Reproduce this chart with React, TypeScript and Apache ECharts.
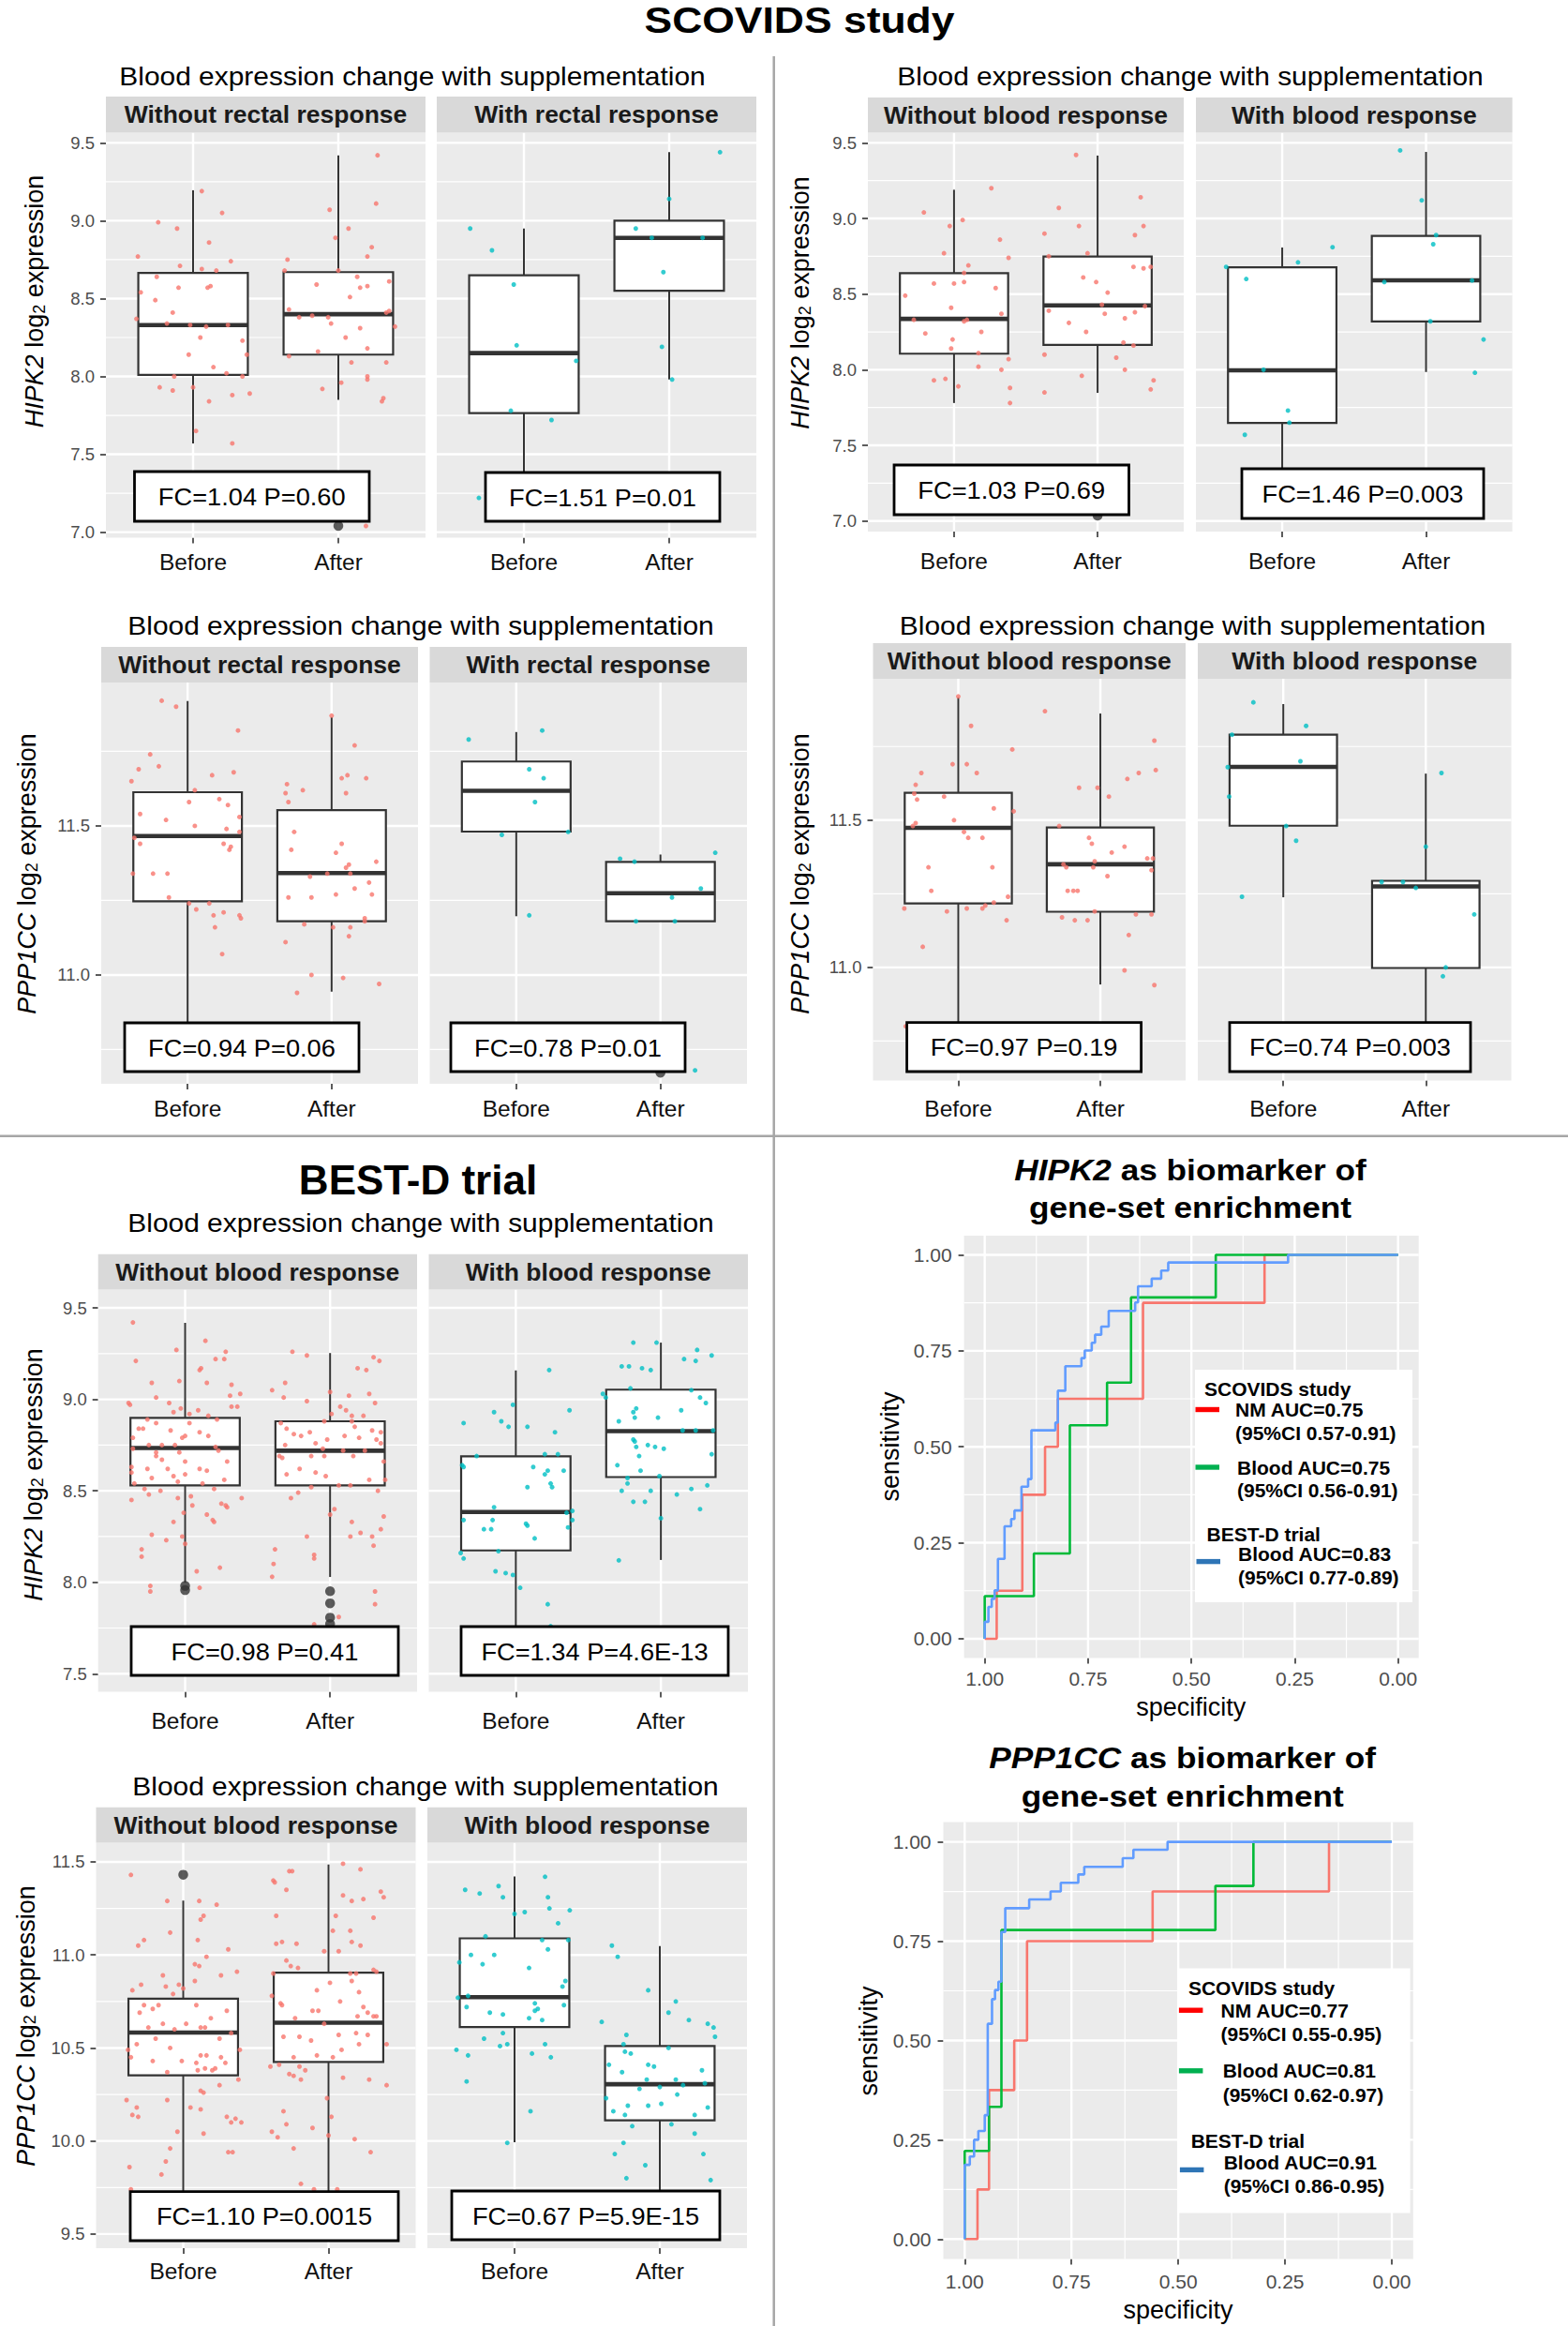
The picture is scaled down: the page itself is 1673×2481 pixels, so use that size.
import React, { useEffect, useRef } from 'react';
import * as echarts from 'echarts';

const FONT = '"Liberation Sans", Arial, Helvetica, sans-serif';
const RED = '#F8766D';
const CYAN = '#00BFC4';

const categories = ['Before', 'After'];
const rectalStrips = ['Without rectal response', 'With rectal response'];
const bloodStrips = ['Without blood response', 'With blood response'];
const subtitleText = 'Blood expression change with supplementation';

const hipkTicksScovids = [7.0, 7.5, 8.0, 8.5, 9.0, 9.5];
const hipkMinorScovids = [7.25, 7.75, 8.25, 8.75, 9.25];
const pppTicksScovids = [11.0, 11.5];
const pppMinorScovids = [10.75, 11.25, 11.75];
const hipkTicksBestd = [7.5, 8.0, 8.5, 9.0, 9.5];
const hipkMinorBestd = [7.75, 8.25, 8.75, 9.25];
const pppTicksBestd = [9.5, 10.0, 10.5, 11.0, 11.5];
const pppMinorBestd = [9.75, 10.25, 10.75, 11.25];
const rocTicks = [0, 0.25, 0.5, 0.75, 1];
const rocMinor = [0.125, 0.375, 0.625, 0.875];

// ---------- Panel 1: SCOVIDS HIPK2, rectal response ----------
// box stats: [lower whisker, q1, median, q3, upper whisker]; order: without-Before, without-After, with-Before, with-After
const p1Box = [[7.57, 8.01, 8.33, 8.665, 9.195], [7.85, 8.14, 8.40, 8.67, 9.42], [7.22, 7.765, 8.15, 8.65, 8.95], [7.98, 8.55, 8.89, 9.0, 9.44]];
const p1Outliers = [[0, 2, 7.04]]; // [facet, category, value]
const p1Fc = ['FC=1.04 P=0.60', 'FC=1.51 P=0.01'];
// jitter points: [x offset, value]
const p1WoBefore = [[0.06,9.19],[0.2,9.05],[-0.24,8.99],[-0.11,8.95],[0.11,8.86],[-0.38,8.77],[-0.09,8.71],[0.26,8.74],[0.06,8.69],[0.16,8.68],[-0.25,8.64],[0.12,8.58],[0.1,8.57],[-0.1,8.57],[-0.36,8.54],[-0.26,8.49],[-0.14,8.41],[-0.39,8.37],[-0.18,8.34],[-0.02,8.33],[0.09,8.32],[0.24,8.33],[0.05,8.25],[0.34,8.23],[-0.03,8.14],[0.37,8.14],[0.14,8.06],[0.23,8.02],[-0.13,8.0],[0.34,8.0],[-0.23,7.93],[0,7.93],[-0.14,7.91],[0.27,7.88],[0.39,7.89],[0.11,7.84],[0.02,7.65],[0.27,7.57]];
const p1WoAfter = [[0.27,9.42],[0.26,9.11],[-0.06,9.07],[0.07,8.95],[-0.02,8.89],[0.23,8.83],[0.2,8.77],[-0.35,8.75],[-0.37,8.68],[0,8.68],[0.13,8.64],[-0.15,8.59],[0.2,8.58],[0.15,8.57],[0.35,8.61],[0.08,8.51],[-0.34,8.43],[-0.27,8.38],[-0.18,8.39],[-0.07,8.38],[-0.05,8.34],[0.33,8.41],[0.35,8.42],[0.39,8.32],[0.15,8.31],[0.05,8.25],[0.2,8.18],[-0.14,8.16],[-0.34,8.13],[0.33,8.09],[0.09,8.09],[0.2,8.0],[0.2,7.98],[0.02,7.96],[-0.11,7.92],[0.31,7.86],[0.3,7.84],[0.19,7.04]];
const p1WBefore = [[-0.37,8.95],[-0.22,8.81],[-0.07,8.59],[-0.05,8.2],[0.36,8.1],[-0.09,7.78],[0.19,7.72],[-0.31,7.22]];
const p1WAfter = [[0.35,9.44],[0,9.14],[-0.23,8.95],[-0.12,8.89],[0.23,8.89],[-0.04,8.67],[-0.05,8.19],[0.02,7.98]];

// ---------- Panel 2: SCOVIDS HIPK2, blood response ----------
const p2Box = [[7.78, 8.106, 8.336, 8.639, 9.19], [7.847, 8.164, 8.425, 8.748, 9.416], [7.2, 7.648, 7.996, 8.677, 8.808], [7.985, 8.319, 8.591, 8.885, 9.44]];
const p2Outliers = [[0, 2, 7.035]];
const p2Fc = ['FC=1.03 P=0.69', 'FC=1.46 P=0.003'];
const p2WoBefore = [[0.26,9.2],[-0.21,9.04],[0.06,8.99],[-0.03,8.95],[0.32,8.86],[-0.07,8.77],[0.38,8.74],[0.1,8.69],[0.07,8.64],[0.07,8.58],[-0.14,8.57],[0,8.57],[0.29,8.54],[-0.34,8.49],[-0.02,8.41],[0.33,8.37],[-0.28,8.33],[0.09,8.33],[0.07,8.32],[-0.2,8.24],[0.19,8.25],[-0.01,8.2],[-0.02,8.14],[0.17,8.11],[0.38,8.07],[0.17,8.02],[0.33,8.0],[-0.14,7.93],[-0.06,7.94],[0.39,7.88],[0.03,7.89],[0.39,7.78]];
const p2WoAfter = [[-0.15,9.42],[0.3,9.14],[-0.27,9.07],[-0.13,8.95],[-0.37,8.9],[0.32,8.95],[0.26,8.89],[-0.07,8.77],[-0.34,8.75],[0.25,8.68],[0.37,8.68],[0.32,8.67],[-0.1,8.61],[-0.01,8.58],[0.07,8.51],[0.03,8.43],[0.33,8.42],[-0.34,8.39],[0.05,8.37],[0.26,8.38],[-0.2,8.31],[0.19,8.34],[-0.08,8.25],[0.18,8.18],[0.25,8.16],[-0.37,8.1],[0.13,8.08],[0.19,8.0],[-0.11,7.96],[0.39,7.93],[0.37,7.87],[-0.37,7.85]];
const p2WBefore = [[0.35,8.81],[-0.39,8.68],[0.11,8.71],[-0.25,8.6],[-0.13,8.0],[0.04,7.73],[0.05,7.65],[-0.26,7.57]];
const p2WAfter = [[-0.18,9.45],[-0.03,9.12],[0.07,8.89],[0.05,8.83],[-0.29,8.58],[0.32,8.59],[0.03,8.32],[0.4,8.2],[0.34,7.98]];

// ---------- Panel 3: SCOVIDS PPP1CC, rectal response ----------
const p3Box = [[10.7, 11.247, 11.466, 11.613, 11.919], [10.944, 11.18, 11.342, 11.553, 11.865], [11.197, 11.481, 11.618, 11.716, 11.815], [11.18, 11.18, 11.274, 11.379, 11.404]];
const p3Outliers = [[1, 2, 10.672]];
const p3Fc = ['FC=0.94 P=0.06', 'FC=0.78 P=0.01'];
const p3WoBefore = [[-0.18,11.92],[-0.08,11.9],[0.35,11.82],[-0.26,11.74],[-0.34,11.69],[-0.2,11.7],[0.32,11.68],[-0.39,11.65],[0.17,11.67],[0.05,11.62],[0.01,11.58],[0.22,11.59],[0.28,11.57],[-0.33,11.54],[-0.15,11.52],[0.36,11.53],[0.05,11.5],[0.27,11.49],[0.36,11.48],[-0.37,11.46],[-0.33,11.44],[0.25,11.44],[0.3,11.43],[0.29,11.42],[-0.38,11.34],[-0.24,11.34],[-0.14,11.34],[-0.13,11.26],[0.01,11.24],[0.15,11.24],[0.06,11.22],[0.18,11.2],[0.25,11.21],[0.36,11.2],[0.37,11.19],[0.19,11.16],[0.24,11.07]];
const p3WoAfter = [[0,11.87],[0.16,11.77],[0.11,11.67],[0.07,11.66],[0.24,11.66],[-0.31,11.64],[-0.2,11.62],[-0.32,11.61],[0.1,11.61],[-0.3,11.58],[-0.26,11.48],[0.07,11.44],[-0.28,11.42],[0.03,11.41],[0.31,11.38],[0.12,11.37],[0.1,11.36],[-0.03,11.34],[0.13,11.34],[-0.15,11.33],[0.26,11.31],[0.16,11.29],[-0.3,11.26],[-0.14,11.26],[0.03,11.27],[0.28,11.27],[0.23,11.19],[0.23,11.18],[-0.19,11.17],[0.01,11.16],[0.13,11.16],[0.12,11.13],[-0.32,11.11],[-0.14,11.0],[0.08,10.99],[0.33,10.97],[-0.24,10.94]];
const p3WBefore = [[0.18,11.82],[-0.33,11.79],[0.09,11.69],[0.19,11.66],[0.13,11.58],[0.36,11.48],[-0.1,11.47],[0.09,11.2]];
const p3WAfter = [[0.38,11.41],[-0.28,11.39],[-0.18,11.38],[0.28,11.29],[0.08,11.26],[-0.17,11.18],[0.1,11.18],[0.24,10.68]];

// ---------- Panel 4: SCOVIDS PPP1CC, blood response ----------
const p4Box = [[10.7, 11.217, 11.474, 11.593, 11.917], [10.942, 11.189, 11.35, 11.475, 11.862], [11.238, 11.481, 11.681, 11.79, 11.894], [10.72, 10.998, 11.275, 11.294, 11.658]];
const p4Outliers = [];
const p4Fc = ['FC=0.97 P=0.19', 'FC=0.74 P=0.003'];
const p4WoBefore = [[0,11.92],[0.09,11.82],[0.38,11.74],[-0.04,11.69],[0.06,11.69],[-0.26,11.66],[0.13,11.66],[-0.3,11.62],[-0.31,11.59],[-0.1,11.58],[-0.29,11.57],[0.25,11.54],[0.39,11.53],[-0.03,11.5],[-0.3,11.49],[-0.32,11.48],[0.04,11.46],[0.07,11.44],[0.17,11.44],[-0.21,11.34],[0.24,11.34],[-0.19,11.26],[0.35,11.24],[0.25,11.22],[0.19,11.21],[0.06,11.2],[0.17,11.2],[-0.38,11.2],[-0.08,11.19],[0.34,11.16],[-0.25,11.07],[-0.37,10.8]];
const p4WoAfter = [[-0.39,11.87],[0.38,11.77],[0.39,11.67],[0.19,11.64],[0.27,11.66],[-0.15,11.61],[-0.02,11.61],[0.06,11.58],[-0.29,11.48],[-0.08,11.44],[-0.06,11.42],[0.17,11.41],[0.08,11.39],[0.33,11.37],[0.37,11.37],[-0.26,11.35],[-0.24,11.34],[-0.04,11.36],[-0.05,11.34],[0.36,11.33],[0.05,11.31],[-0.23,11.26],[-0.19,11.26],[-0.16,11.26],[-0.04,11.19],[-0.27,11.17],[-0.18,11.16],[-0.09,11.16],[0.25,11.18],[0.36,11.18],[0.2,11.11],[0.17,10.99],[0.38,10.94]];
const p4WBefore = [[-0.21,11.9],[0.16,11.82],[-0.36,11.79],[0.12,11.7],[-0.39,11.68],[-0.38,11.58],[0.02,11.48],[0.09,11.43],[-0.29,11.24]];
const p4WAfter = [[0.11,11.66],[0,11.41],[-0.31,11.29],[-0.16,11.29],[-0.07,11.27],[0.34,11.18],[0.14,11.0],[0.12,10.97]];

// ---------- Panel 5: BEST-D HIPK2 ----------
const p5Box = [[7.998, 8.53, 8.734, 8.899, 9.418], [8.029, 8.53, 8.719, 8.88, 9.253], [7.65, 8.174, 8.384, 8.688, 9.158], [8.122, 8.575, 8.826, 9.053, 9.31]];
const p5Outliers = [[0, 1, 7.98], [0, 1, 7.957], [0, 2, 7.951], [0, 2, 7.885], [0, 2, 7.807], [0, 2, 7.772]];
const p5Fc = ['FC=0.98 P=0.41', 'FC=1.34 P=4.6E-13'];
const p5WoBefore = [[-0.36,9.42],[-0.34,9.21],[0.14,9.32],[-0.06,9.27],[0.28,9.26],[0.21,9.22],[0.27,9.22],[0.11,9.17],[0.1,9.16],[-0.23,9.09],[-0.04,9.1],[0.15,9.09],[0.32,9.08],[-0.39,8.98],[-0.2,9.01],[0.38,9.03],[0.31,9.02],[0.36,8.96],[0.32,8.96],[-0.11,8.98],[-0.03,8.95],[0.09,8.94],[0.03,8.92],[-0.38,8.97],[-0.08,8.93],[0.16,8.91],[0.22,8.89],[-0.26,8.89],[-0.2,8.87],[0.03,8.87],[-0.32,8.84],[-0.29,8.84],[-0.1,8.83],[-0.02,8.79],[0,8.8],[0.1,8.82],[0.16,8.8],[-0.36,8.79],[-0.25,8.75],[-0.16,8.75],[-0.07,8.75],[0.21,8.74],[-0.36,8.73],[-0.2,8.71],[-0.2,8.69],[-0.04,8.71],[0.23,8.72],[-0.16,8.67],[0,8.66],[0.29,8.66],[-0.37,8.63],[-0.26,8.62],[-0.12,8.62],[0.1,8.62],[0.15,8.61],[-0.37,8.6],[-0.08,8.58],[-0.23,8.57],[0,8.59],[0.27,8.56],[-0.05,8.55],[0.12,8.54],[-0.35,8.54],[-0.28,8.51],[-0.17,8.5],[0.2,8.51],[-0.37,8.45],[-0.25,8.48],[-0.05,8.46],[0.04,8.47],[0.39,8.46],[0.25,8.43],[0.05,8.42],[0.28,8.42],[0.29,8.41],[-0.08,8.33],[0.15,8.37],[0.19,8.34],[0.2,8.33],[-0.01,8.38],[-0.23,8.26],[-0.13,8.23],[-0.02,8.25],[-0.3,8.18],[0,8.21],[-0.3,8.14],[0.24,8.08],[0.08,8.06],[-0.24,7.98],[0.1,7.97],[-0.24,7.95]];
const p5WoAfter = [[-0.26,9.26],[-0.16,9.24],[0.3,9.23],[0.34,9.21],[0.19,9.17],[0.25,9.16],[-0.31,9.09],[-0.4,9.05],[0,9.04],[-0.32,9.01],[-0.16,8.99],[0.13,9.02],[0.27,9.03],[0.31,8.98],[0.07,8.96],[0.11,8.94],[0.01,8.92],[0.23,8.91],[0.15,8.91],[-0.04,8.88],[-0.34,8.87],[0.15,8.88],[0.17,8.85],[-0.3,8.84],[0.29,8.83],[0.35,8.82],[-0.14,8.82],[-0.2,8.8],[-0.25,8.81],[-0.02,8.78],[0.1,8.8],[0.2,8.79],[0.32,8.78],[0.35,8.76],[-0.1,8.76],[-0.31,8.75],[-0.05,8.73],[0.09,8.72],[0.24,8.72],[-0.35,8.69],[-0.33,8.68],[-0.13,8.69],[-0.04,8.69],[0.16,8.69],[0.37,8.66],[-0.21,8.62],[-0.1,8.6],[-0.03,8.58],[-0.3,8.59],[0.27,8.56],[0.38,8.56],[0.14,8.53],[0.06,8.53],[-0.13,8.52],[-0.22,8.49],[0.33,8.5],[-0.27,8.46],[0.03,8.4],[0,8.37],[0.37,8.36],[0.15,8.33],[0.35,8.29],[0.21,8.27],[0.14,8.25],[-0.16,8.25],[0.29,8.25],[-0.11,8.15],[-0.11,8.13],[-0.38,8.18],[-0.39,8.1],[-0.4,8.03],[0.3,8.2],[0.31,7.95],[0.31,7.88],[0.06,7.81],[-0.11,7.77]];
const p5WBefore = [[0.23,9.16],[-0.36,8.87],[-0.15,8.93],[-0.02,8.97],[-0.1,8.88],[-0.05,8.85],[0.08,8.85],[0.37,8.94],[0.27,8.82],[-0.27,8.69],[0.2,8.7],[0.29,8.7],[-0.37,8.64],[-0.36,8.63],[0.12,8.63],[0.22,8.61],[0.33,8.61],[0.2,8.59],[0.24,8.54],[0.08,8.52],[0.25,8.52],[-0.15,8.41],[0.35,8.38],[0.39,8.39],[0.39,8.34],[-0.36,8.34],[-0.16,8.34],[0.07,8.32],[0.08,8.31],[-0.22,8.29],[-0.17,8.29],[0.36,8.3],[0.13,8.24],[-0.38,8.16],[-0.36,8.13],[-0.12,8.17],[-0.14,8.06],[-0.07,8.05],[-0.02,8.04],[0.03,7.97],[0.22,7.88],[0.24,7.76]];
const p5WAfter = [[-0.19,9.31],[-0.03,9.31],[0.16,9.22],[0.24,9.21],[-0.27,9.18],[-0.22,9.18],[-0.13,9.17],[-0.07,9.16],[0.25,9.27],[0.35,9.24],[-0.38,9.01],[-0.4,9.03],[-0.21,9.06],[0.21,9.05],[0.27,9.01],[0.31,8.98],[-0.29,8.88],[-0.17,8.95],[-0.19,8.93],[-0.18,8.9],[-0.02,8.9],[0.14,8.94],[0.24,8.83],[0.15,8.83],[0.36,8.83],[-0.19,8.78],[-0.18,8.77],[-0.09,8.75],[-0.04,8.74],[0.02,8.73],[-0.17,8.74],[-0.15,8.69],[0.35,8.7],[-0.3,8.64],[-0.14,8.61],[-0.01,8.58],[-0.23,8.57],[-0.23,8.54],[-0.27,8.5],[-0.07,8.5],[0.21,8.51],[0.32,8.53],[0.11,8.48],[-0.19,8.44],[-0.11,8.44],[0.27,8.4],[0,8.35],[-0.29,8.12]];

// ---------- Panel 6: BEST-D PPP1CC ----------
const p6Box = [[9.6, 10.353, 10.583, 10.765, 11.292], [9.6, 10.425, 10.636, 10.905, 11.486], [9.993, 10.612, 10.773, 11.089, 11.421], [9.6, 10.111, 10.305, 10.51, 11.048]];
const p6Outliers = [[0, 1, 11.431]];
const p6Fc = ['FC=1.10 P=0.0015', 'FC=0.67 P=5.9E-15'];
const p6WoBefore = [[-0.36,11.43],[-0.11,11.29],[0.11,11.29],[0.23,11.27],[0.14,11.21],[0.12,11.19],[-0.09,11.12],[0.1,11.08],[-0.27,11.08],[-0.31,11.05],[0.16,10.99],[0.31,11.03],[0.08,10.95],[0.11,10.94],[0.37,10.91],[0.26,10.89],[-0.14,10.89],[0.08,10.86],[-0.29,10.84],[-0.03,10.84],[-0.12,10.83],[0,10.82],[-0.35,10.81],[-0.07,10.79],[-0.27,10.73],[-0.21,10.71],[-0.17,10.73],[0.09,10.73],[0.19,10.66],[0.3,10.7],[-0.3,10.69],[-0.14,10.63],[0.02,10.63],[-0.24,10.61],[-0.06,10.6],[0.12,10.61],[0.15,10.61],[-0.32,10.52],[0.25,10.55],[0.33,10.58],[-0.19,10.55],[-0.38,10.49],[-0.09,10.5],[0.39,10.49],[-0.36,10.45],[0.12,10.46],[0.16,10.46],[0.26,10.45],[0.29,10.42],[-0.01,10.43],[0.09,10.42],[-0.21,10.43],[0.15,10.39],[0.22,10.39],[0.1,10.38],[0.2,10.38],[-0.11,10.37],[0.38,10.33],[0.25,10.3],[0.12,10.27],[0.14,10.26],[-0.39,10.22],[-0.11,10.22],[0.05,10.18],[0.12,10.17],[-0.32,10.18],[-0.35,10.14],[-0.31,10.13],[0.3,10.13],[0.36,10.12],[0.33,10.1],[0.4,10.1],[0.14,10.04],[-0.04,10.05],[-0.09,9.96],[0.31,9.94],[0.34,9.94],[-0.12,9.89],[-0.37,9.86],[-0.15,9.82],[-0.36,9.74]];
const p6WoAfter = [[0.1,11.49],[-0.27,11.45],[-0.25,11.45],[0.22,11.46],[-0.38,11.4],[-0.37,11.39],[0.36,11.34],[0.38,11.31],[-0.29,11.35],[0.1,11.32],[0.16,11.29],[0.24,11.3],[0.05,11.21],[-0.36,11.21],[0.31,11.2],[0.03,11.13],[0.15,11.13],[-0.03,11.02],[0.07,11.02],[-0.36,11.06],[-0.32,11.07],[-0.22,11.06],[0.16,11.07],[0.22,11.05],[-0.29,10.97],[-0.26,10.94],[-0.21,10.93],[-0.38,10.9],[0.15,10.9],[0.19,10.9],[0.31,10.92],[0.33,10.91],[-0.08,10.81],[0.01,10.85],[0.16,10.86],[0.21,10.8],[-0.39,10.78],[0.08,10.75],[-0.33,10.74],[-0.32,10.73],[0.24,10.72],[0.27,10.69],[0.31,10.67],[0.33,10.67],[-0.11,10.7],[-0.07,10.7],[0.2,10.67],[-0.23,10.66],[-0.03,10.63],[-0.2,10.56],[-0.31,10.56],[-0.12,10.54],[0.07,10.57],[0.19,10.58],[0.27,10.57],[0.21,10.52],[0.4,10.52],[0.09,10.49],[-0.24,10.45],[-0.08,10.46],[0.03,10.45],[-0.4,10.4],[-0.34,10.41],[-0.2,10.4],[-0.27,10.36],[-0.24,10.35],[-0.16,10.38],[-0.19,10.33],[0.1,10.34],[0.28,10.33],[0.4,10.3],[-0.01,10.23],[-0.31,10.16],[0.02,10.13],[-0.29,10.09],[-0.11,10.07],[-0.39,10.05],[-0.35,10.02],[0,10.03],[0.18,10.01],[-0.24,9.96],[0.29,9.94],[-0.19,9.77],[-0.1,9.74],[0.06,9.74]];
const p6WBefore = [[0.21,11.42],[-0.34,11.35],[-0.24,11.33],[-0.11,11.37],[-0.08,11.31],[0.23,11.31],[0.24,11.25],[0.38,11.24],[0.07,11.23],[0,11.22],[0.3,11.17],[-0.2,11.1],[0.19,11.08],[0.37,11.08],[0.23,11.03],[-0.14,11.0],[-0.3,11.0],[0.1,10.93],[-0.38,10.96],[-0.22,10.95],[0.35,10.86],[0.33,10.83],[-0.39,10.77],[-0.32,10.78],[-0.33,10.72],[0.34,10.73],[0.14,10.74],[0.16,10.71],[0.14,10.7],[-0.17,10.69],[-0.08,10.68],[0.1,10.66],[0.19,10.65],[-0.21,10.55],[-0.08,10.58],[-0.1,10.51],[-0.05,10.52],[0.21,10.52],[-0.4,10.49],[-0.32,10.46],[0.12,10.47],[0.25,10.45],[-0.33,10.32],[0.11,10.16],[-0.05,9.99]];
const p6WAfter = [[-0.33,11.05],[-0.29,10.99],[-0.08,10.81],[0.11,10.75],[0.06,10.69],[0.2,10.65],[-0.4,10.64],[0.33,10.63],[0.37,10.61],[0.38,10.56],[-0.23,10.57],[-0.25,10.52],[0.06,10.5],[-0.24,10.48],[-0.2,10.47],[-0.35,10.41],[-0.08,10.41],[-0.04,10.4],[-0.26,10.37],[0.29,10.38],[-0.09,10.33],[0.11,10.33],[0.16,10.3],[0.31,10.31],[-0.14,10.28],[0,10.29],[-0.37,10.23],[0.12,10.25],[-0.32,10.16],[-0.22,10.19],[-0.08,10.19],[0.01,10.2],[0.33,10.18],[-0.24,10.14],[0.24,10.14],[0.08,10.09],[-0.19,10.08],[-0.25,9.99],[0.24,10.04],[-0.31,9.93],[-0.1,9.87],[0.3,9.93],[-0.23,9.8],[0.35,9.79]];

// ---------- ROC curves: [specificity, sensitivity] ----------
const roc1Nm = [[1,0],[0.971,0],[0.971,0.125],[0.909,0.125],[0.909,0.375],[0.854,0.375],[0.854,0.5],[0.823,0.5],[0.823,0.625],[0.617,0.625],[0.617,0.875],[0.323,0.875],[0.323,1],[0,1]];
const roc1Blood = [[1,0],[1,0.111],[0.881,0.111],[0.881,0.222],[0.794,0.222],[0.794,0.556],[0.704,0.556],[0.704,0.667],[0.646,0.667],[0.646,0.889],[0.441,0.889],[0.441,1],[0,1]];
const roc1BestD = [[1,0],[1,0.044],[0.991,0.044],[0.991,0.083],[0.983,0.083],[0.983,0.104],[0.976,0.104],[0.976,0.126],[0.968,0.126],[0.968,0.208],[0.952,0.208],[0.952,0.293],[0.936,0.293],[0.936,0.312],[0.928,0.312],[0.928,0.334],[0.911,0.334],[0.911,0.396],[0.895,0.396],[0.895,0.416],[0.887,0.416],[0.887,0.543],[0.829,0.543],[0.829,0.563],[0.823,0.563],[0.823,0.646],[0.805,0.646],[0.805,0.71],[0.766,0.71],[0.766,0.731],[0.758,0.731],[0.758,0.751],[0.741,0.751],[0.741,0.771],[0.733,0.771],[0.733,0.792],[0.718,0.792],[0.718,0.813],[0.7,0.813],[0.7,0.854],[0.636,0.854],[0.636,0.876],[0.629,0.876],[0.629,0.918],[0.596,0.918],[0.596,0.938],[0.573,0.938],[0.573,0.959],[0.556,0.959],[0.556,0.98],[0.266,0.98],[0.266,1],[0,1]];
const roc2Nm = [[1,0],[0.97,0],[0.97,0.125],[0.943,0.125],[0.943,0.375],[0.884,0.375],[0.884,0.5],[0.854,0.5],[0.854,0.75],[0.56,0.75],[0.56,0.875],[0.147,0.875],[0.147,1],[0,1]];
const roc2Blood = [[1,0],[1,0.222],[0.943,0.222],[0.943,0.333],[0.914,0.333],[0.914,0.778],[0.413,0.778],[0.413,0.889],[0.324,0.889],[0.324,1],[0,1]];
const roc2BestD = [[1,0],[1,0.187],[0.988,0.187],[0.988,0.208],[0.978,0.208],[0.978,0.25],[0.968,0.25],[0.968,0.272],[0.953,0.272],[0.953,0.312],[0.946,0.312],[0.946,0.542],[0.936,0.542],[0.936,0.604],[0.929,0.604],[0.929,0.627],[0.921,0.627],[0.921,0.648],[0.914,0.648],[0.914,0.773],[0.905,0.773],[0.905,0.833],[0.849,0.833],[0.849,0.855],[0.799,0.855],[0.799,0.875],[0.775,0.875],[0.775,0.897],[0.734,0.897],[0.734,0.918],[0.72,0.918],[0.72,0.937],[0.63,0.937],[0.63,0.959],[0.605,0.959],[0.605,0.98],[0.525,0.98],[0.525,1],[0,1]];
const roc1Legend = ['NM AUC=0.75', '(95%CI 0.57-0.91)', 'Blood AUC=0.75', '(95%CI 0.56-0.91)', 'Blood AUC=0.83', '(95%CI 0.77-0.89)'];
const roc2Legend = ['NM AUC=0.77', '(95%CI 0.55-0.95)', 'Blood AUC=0.81', '(95%CI 0.62-0.97)', 'Blood AUC=0.91', '(95%CI 0.86-0.95)'];
const rocLineColors = ['#F8766D', '#00BA38', '#619CFF'];
const rocKeyColors = ['#FF0000', '#00B050', '#2E75B6'];

// ---------- layout ----------
const boxPanels = [
  { gene: 'HIPK2', facets: [[113, 341], [466, 341]], stripTop: 103, top: 141.4, bottom: 573.6, yMin: 6.964, yMax: 9.566, ticks: hipkTicksScovids, minor: hipkMinorScovids, strips: rectalStrips, box: p1Box, pts: [p1WoBefore, p1WoAfter, p1WBefore, p1WAfter], outliers: p1Outliers, fc: p1Fc, fcRects: [[143.5, 503, 250.5, 53], [518, 504, 250, 52]], subtitle: [440, 81], yTitle: [37, 321.5], xMargin: 13 },
  { gene: 'HIPK2', facets: [[926, 337], [1276, 337.6]], stripTop: 104, top: 141.4, bottom: 567, yMin: 6.93, yMax: 9.568, ticks: hipkTicksScovids, minor: hipkMinorScovids, strips: bloodStrips, box: p2Box, pts: [p2WoBefore, p2WoAfter, p2WBefore, p2WAfter], outliers: p2Outliers, fc: p2Fc, fcRects: [[954, 496, 250.5, 53], [1325, 500, 258, 53]], subtitle: [1270, 81], yTitle: [854, 323], xMargin: 19 },
  { gene: 'PPP1CC', facets: [[108, 338], [458.5, 338.5]], stripTop: 690, top: 728, bottom: 1156, yMin: 10.635, yMax: 11.981, ticks: pppTicksScovids, minor: pppMinorScovids, strips: rectalStrips, box: p3Box, pts: [p3WoBefore, p3WoAfter, p3WBefore, p3WAfter], outliers: p3Outliers, fc: p3Fc, fcRects: [[133, 1091, 250, 52], [481, 1091, 250, 52]], subtitle: [449, 667], yTitle: [29, 932], xMargin: 14 },
  { gene: 'PPP1CC', facets: [[931.5, 333.5], [1278, 334.5]], stripTop: 686, top: 724, bottom: 1152.5, yMin: 10.616, yMax: 11.98, ticks: pppTicksScovids, minor: pppMinorScovids, strips: bloodStrips, box: p4Box, pts: [p4WoBefore, p4WoAfter, p4WBefore, p4WAfter], outliers: p4Outliers, fc: p4Fc, fcRects: [[967.6, 1090.7, 250, 52.3], [1312, 1090.7, 257, 52.3]], subtitle: [1272.5, 667], yTitle: [854, 932], xMargin: 17 },
  { gene: 'HIPK2', facets: [[104.7, 340.3], [457.5, 340.5]], stripTop: 1337.7, top: 1375.5, bottom: 1804.6, yMin: 7.401, yMax: 9.6, ticks: hipkTicksBestd, minor: hipkMinorBestd, strips: bloodStrips, box: p5Box, pts: [p5WoBefore, p5WoAfter, p5WBefore, p5WAfter], outliers: p5Outliers, fc: p5Fc, fcRects: [[140, 1735, 285, 52], [492, 1735, 285, 52]], subtitle: [449, 1304], yTitle: [35.6, 1573], xMargin: 18 },
  { gene: 'PPP1CC', facets: [[102.5, 341], [456, 341]], stripTop: 1927.7, top: 1965.5, bottom: 2398, yMin: 9.424, yMax: 11.603, ticks: pppTicksBestd, minor: pppMinorBestd, strips: bloodStrips, box: p6Box, pts: [p6WoBefore, p6WoAfter, p6WBefore, p6WAfter], outliers: p6Outliers, fc: p6Fc, fcRects: [[139, 2337.6, 286, 52.4], [482, 2337, 286, 52]], subtitle: [454, 1905], yTitle: [27.9, 2161], xMargin: 12 },
];

const rocPanels = [
  { gene: 'HIPK2', grid: [1028.6, 1318, 485.1, 450.4], curves: [roc1Nm, roc1Blood, roc1BestD], legend: roc1Legend, legendBox: [1275, 1461, 232, 248], legendScale: 1, title: [1270, 1248.5, 1288], yTitle: [950, 1543], xTitle: [1270.7, 1821], xMargin: 12 },
  { gene: 'PPP1CC', grid: [1006.5, 1943.4, 501.3, 466.1], curves: [roc2Nm, roc2Blood, roc2BestD], legend: roc2Legend, legendBox: [1257.4, 2099.6, 247.2, 260.8], legendScale: 1.05, title: [1261.7, 1874.7, 1915.6], yTitle: [927, 2177], xTitle: [1257, 2463.5], xMargin: 13 },
];

function gridLineRender(xr: number[], yr: number[]) {
  return (params: any, api: any) => {
    const pos = api.value(0);
    const kind = api.value(1);
    let a, b;
    if (kind < 2) { a = api.coord([xr[0], pos]); b = api.coord([xr[1], pos]); }
    else { a = api.coord([pos, yr[0]]); b = api.coord([pos, yr[1]]); }
    return { type: 'line', shape: { x1: a[0], y1: a[1], x2: b[0], y2: b[1] }, style: { stroke: '#FFFFFF', lineWidth: kind % 2 === 0 ? 2.4 : 1.2 } };
  };
}

function boxRender(params: any, api: any) {
  const x = api.value(0);
  const lw = api.value(1), q1 = api.value(2), med = api.value(3), q3 = api.value(4), uw = api.value(5);
  const h = 0.377;
  const tl = api.coord([x - h, q3]);
  const br = api.coord([x + h, q1]);
  const m = api.coord([x, med]);
  const pl = api.coord([x, lw]);
  const pu = api.coord([x, uw]);
  const stroke = '#333333';
  return {
    type: 'group',
    children: [
      { type: 'line', shape: { x1: m[0], y1: pu[1], x2: m[0], y2: tl[1] }, style: { stroke, lineWidth: 2 } },
      { type: 'line', shape: { x1: m[0], y1: br[1], x2: m[0], y2: pl[1] }, style: { stroke, lineWidth: 2 } },
      { type: 'rect', shape: { x: tl[0], y: tl[1], width: br[0] - tl[0], height: br[1] - tl[1] }, style: { fill: '#FFFFFF', stroke, lineWidth: 2.2 } },
      { type: 'line', shape: { x1: tl[0], y1: m[1], x2: br[0], y2: m[1] }, style: { stroke, lineWidth: 4.6 } },
    ],
  };
}

function yTitleEl(gene: string, x: number, y: number) {
  const base = { fontFamily: FONT, fill: '#000000', fontSize: 27 };
  return {
    type: 'text', x, y, rotation: Math.PI / 2, z: 10,
    style: {
      text: `{i|${gene}}{n| log}{s|2}{n| expression}`,
      align: 'center', verticalAlign: 'middle',
      rich: { i: { ...base, fontStyle: 'italic' }, n: { ...base }, s: { ...base, fontSize: 18, verticalAlign: 'bottom' } },
    },
  };
}

function buildOption() {
  const grid: any[] = [];
  const xAxis: any[] = [];
  const yAxis: any[] = [];
  const series: any[] = [];
  const g: any[] = [];

  const txt = (text: string, x: number, y: number, size: number, opts: any = {}) => ({
    type: 'text', x, y, z: opts.z || 10, scaleX: opts.scaleX || 1,
    style: { text, fontFamily: FONT, fontSize: size, fontWeight: opts.bold ? 'bold' : 'normal', fill: opts.color || '#000000', align: opts.align || 'center', verticalAlign: 'middle' },
  });

  // main titles and dividers
  g.push(txt('SCOVIDS study', 853, 22, 38, { bold: true, scaleX: 1.17 }));
  g.push(txt('BEST-D trial', 446, 1258, 44, { bold: true }));
  g.push({ type: 'line', z: 10, shape: { x1: 825.7, y1: 60, x2: 825.7, y2: 2481 }, style: { stroke: '#A6A6A6', lineWidth: 2.5 } });
  g.push({ type: 'line', z: 10, shape: { x1: 0, y1: 1211.7, x2: 1673, y2: 1211.7 }, style: { stroke: '#A6A6A6', lineWidth: 2.5 } });

  boxPanels.forEach((p) => {
    g.push(txt(subtitleText, p.subtitle[0], p.subtitle[1], 28.5, { scaleX: 1.05 }));
    g.push(yTitleEl(p.gene, p.yTitle[0], p.yTitle[1]));
    p.facets.forEach((f, fi) => {
      const gi = grid.length;
      grid.push({ left: f[0], top: p.top, width: f[1], height: p.bottom - p.top, show: true, backgroundColor: '#EBEBEB', borderWidth: 0 });
      xAxis.push({
        gridIndex: gi, type: 'value', min: 0.4, max: 2.6,
        axisLine: { show: false, onZero: false }, splitLine: { show: false },
        axisTick: { show: true, customValues: [1, 2], length: 6, lineStyle: { color: '#333333', width: 1.6 } },
        axisLabel: { customValues: [1, 2], formatter: (v: number) => categories[Math.round(v) - 1], fontSize: 24.5, color: '#111111', fontFamily: FONT, margin: p.xMargin },
      });
      yAxis.push({
        gridIndex: gi, type: 'value', min: p.yMin, max: p.yMax,
        axisLine: { show: false, onZero: false }, splitLine: { show: false },
        axisTick: { show: fi === 0, customValues: p.ticks, length: 6, lineStyle: { color: '#333333', width: 1.6 } },
        axisLabel: { show: fi === 0, customValues: p.ticks, formatter: (v: number) => v.toFixed(1), fontSize: 18.5, color: '#4D4D4D', fontFamily: FONT, margin: 12 },
      });
      const lines = [...p.ticks.map((v) => [v, 0]), ...p.minor.map((v) => [v, 1]), [1, 2], [2, 2]];
      series.push({ type: 'custom', xAxisIndex: gi, yAxisIndex: gi, silent: true, z: 1, data: lines, renderItem: gridLineRender([0.4, 2.6], [p.yMin, p.yMax]) });
      series.push({ type: 'custom', xAxisIndex: gi, yAxisIndex: gi, silent: true, z: 3, data: [[1, ...p.box[fi * 2]], [2, ...p.box[fi * 2 + 1]]], renderItem: boxRender });
      series.push({ type: 'scatter', xAxisIndex: gi, yAxisIndex: gi, silent: true, z: 4, symbolSize: 10.5, itemStyle: { color: '#333333' }, data: p.outliers.filter((o) => o[0] === fi).map((o) => [o[1], o[2]]) });
      series.push({
        type: 'scatter', xAxisIndex: gi, yAxisIndex: gi, silent: true, z: 5, symbolSize: 5,
        itemStyle: { color: fi === 0 ? RED : CYAN },
        data: [...p.pts[fi * 2].map((d) => [1 + d[0], d[1]]), ...p.pts[fi * 2 + 1].map((d) => [2 + d[0], d[1]])],
      });
      g.push({ type: 'rect', z: 10, shape: { x: f[0], y: p.stripTop, width: f[1], height: p.top - p.stripTop }, style: { fill: '#D9D9D9' } });
      g.push(txt(p.strips[fi], f[0] + f[1] / 2, (p.stripTop + p.top) / 2, 26.5, { bold: true, color: '#1A1A1A', z: 11 }));
      const r = p.fcRects[fi];
      g.push({ type: 'rect', z: 100, shape: { x: r[0], y: r[1], width: r[2], height: r[3] }, style: { fill: '#FFFFFF', stroke: '#000000', lineWidth: 2.8 } });
      g.push(txt(p.fc[fi], r[0] + r[2] / 2, r[1] + r[3] / 2 + 1, 25, { z: 101, scaleX: 1.09 }));
    });
  });

  rocPanels.forEach((r) => {
    const gi = grid.length;
    grid.push({ left: r.grid[0], top: r.grid[1], width: r.grid[2], height: r.grid[3], show: true, backgroundColor: '#EBEBEB', borderWidth: 0 });
    xAxis.push({
      gridIndex: gi, type: 'value', min: -0.05, max: 1.05, inverse: true,
      axisLine: { show: false, onZero: false }, splitLine: { show: false },
      axisTick: { show: true, customValues: rocTicks, length: 6, lineStyle: { color: '#333333', width: 1.6 } },
      axisLabel: { customValues: rocTicks, formatter: (v: number) => v.toFixed(2), fontSize: 21, color: '#4D4D4D', fontFamily: FONT, margin: r.xMargin },
    });
    yAxis.push({
      gridIndex: gi, type: 'value', min: -0.05, max: 1.05,
      axisLine: { show: false, onZero: false }, splitLine: { show: false },
      axisTick: { show: true, customValues: rocTicks, length: 6, lineStyle: { color: '#333333', width: 1.6 } },
      axisLabel: { customValues: rocTicks, formatter: (v: number) => v.toFixed(2), fontSize: 21, color: '#4D4D4D', fontFamily: FONT, margin: 13 },
    });
    const lines = [...rocTicks.map((v) => [v, 0]), ...rocMinor.map((v) => [v, 1]), ...rocTicks.map((v) => [v, 2]), ...rocMinor.map((v) => [v, 3])];
    series.push({ type: 'custom', xAxisIndex: gi, yAxisIndex: gi, silent: true, z: 1, data: lines, renderItem: gridLineRender([-0.05, 1.05], [-0.05, 1.05]) });
    r.curves.forEach((c, ci) => {
      series.push({ type: 'line', xAxisIndex: gi, yAxisIndex: gi, silent: true, z: 3 + ci, data: c, showSymbol: false, symbol: 'none', lineStyle: { color: rocLineColors[ci], width: 2.6 } });
    });
    // title
    const tb = { fontFamily: FONT, fontSize: 32, fontWeight: 'bold', fill: '#000000' };
    g.push({ type: 'text', x: r.title[0], y: r.title[1], z: 10, scaleX: 1.1, style: { text: `{i|${r.gene}}{b| as biomarker of}`, align: 'center', verticalAlign: 'middle', rich: { i: { ...tb, fontStyle: 'italic' }, b: { ...tb } } } });
    g.push(txt('gene-set enrichment', r.title[0], r.title[2], 32, { bold: true, scaleX: 1.1 }));
    g.push(txt('sensitivity', r.yTitle[0], r.yTitle[1], 27, {}));
    g[g.length - 1].rotation = Math.PI / 2;
    g.push(txt('specificity', r.xTitle[0], r.xTitle[1], 27, {}));
    // legend
    const [lx, ly, lw, lh] = r.legendBox;
    const s = r.legendScale;
    g.push({ type: 'rect', z: 20, shape: { x: lx, y: ly, width: lw, height: lh }, style: { fill: '#FFFFFF' } });
    const lt = (t: string, dx: number, dy: number) => txt(t, lx + dx * s, ly + dy * s, 21, { bold: true, align: 'left', z: 21 });
    const key = (ci: number, dx: number, dy: number) => ({ type: 'rect', z: 21, shape: { x: lx + dx, y: ly + dy * s - 2.7, width: 25.5, height: 5.4 }, style: { fill: rocKeyColors[ci] } });
    g.push(lt('SCOVIDS study', 10, 20));
    g.push(key(0, 0.5, 42.5));
    g.push(lt(r.legend[0], 43, 42.5));
    g.push(lt(r.legend[1], 43, 67));
    g.push(key(1, 0.5, 104));
    g.push(lt(r.legend[2], 45, 104));
    g.push(lt(r.legend[3], 45, 128));
    g.push(lt('BEST-D trial', 12.6, 175));
    g.push(key(2, 1.5, 204.6));
    g.push(lt(r.legend[4], 46, 196.7));
    g.push(lt(r.legend[5], 46, 221));
  });

  return {
    animation: false,
    backgroundColor: '#FFFFFF',
    textStyle: { fontFamily: FONT },
    grid, xAxis, yAxis, series,
    graphic: { elements: g },
  };
}

export default function App() {
  const ref = useRef<HTMLDivElement>(null);
  useEffect(() => {
    if (!ref.current) return;
    const chart = echarts.init(ref.current, null, { renderer: 'svg' });
    chart.setOption(buildOption() as any);
    return () => chart.dispose();
  }, []);
  return <div ref={ref} style={{ position: 'absolute', left: 0, top: 0, width: 1673, height: 2481 }} />;
}
